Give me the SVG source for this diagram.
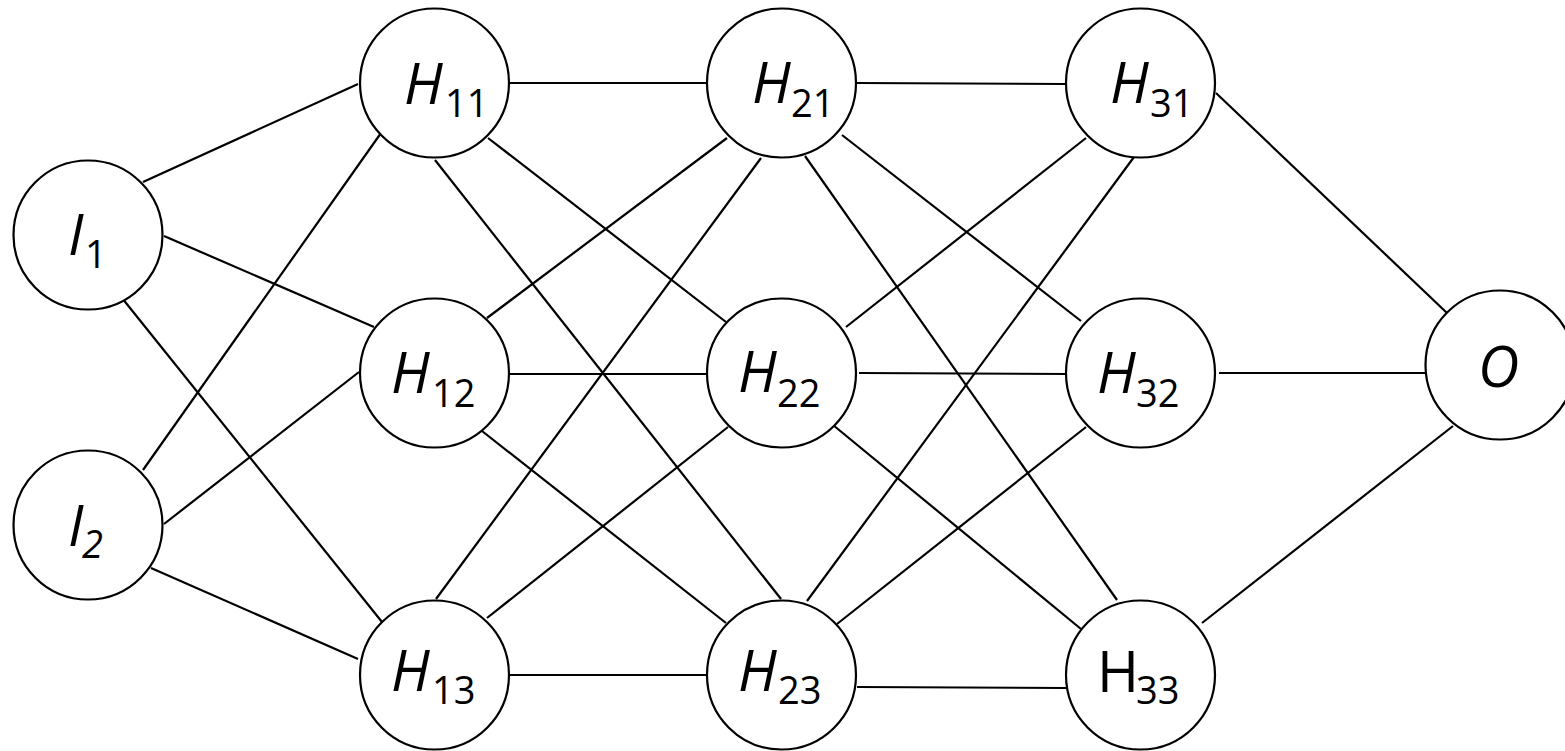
<svg xmlns="http://www.w3.org/2000/svg" width="1565" height="751" viewBox="0 0 1565 751">
  <style>
    .node circle { fill: #ffffff; stroke: #000000; stroke-width: 2.2; }
    .edges line { stroke: #000000; stroke-width: 2.2; }
    .lbl { font-family: "Open Sans", "Liberation Sans", sans-serif; font-size: 57px; fill: #000000; }
    .it { font-style: italic; }
    .sub { font-size: 38px; }
  </style>
  <rect width="1565" height="751" fill="#ffffff"/>

  <!-- weighted connections between layers -->
  <g id="connectors" class="edges">
    <!-- input layer to hidden layer 1 -->
    <line x1="143" y1="182" x2="358" y2="84"/>
    <line x1="164" y1="236" x2="374" y2="327"/>
    <line x1="122" y1="298" x2="382" y2="622"/>
    <line x1="143" y1="470" x2="381" y2="133"/>
    <line x1="164" y1="524" x2="359" y2="372"/>
    <line x1="151" y1="568" x2="358" y2="659"/>
    <!-- hidden layer 1 to hidden layer 2 -->
    <line x1="510" y1="83" x2="706" y2="83"/>
    <line x1="488" y1="138" x2="726" y2="322"/>
    <line x1="435" y1="160" x2="781" y2="599"/>
    <line x1="487" y1="318" x2="727" y2="138"/>
    <line x1="510" y1="374" x2="706" y2="374"/>
    <line x1="482" y1="431" x2="726" y2="623"/>
    <line x1="436" y1="599" x2="761" y2="158"/>
    <line x1="487" y1="618" x2="728" y2="427"/>
    <line x1="510" y1="675" x2="706" y2="675"/>
    <!-- hidden layer 2 to hidden layer 3 -->
    <line x1="857" y1="83" x2="1065" y2="84"/>
    <line x1="842" y1="135" x2="1081" y2="321"/>
    <line x1="805" y1="156" x2="1117" y2="600"/>
    <line x1="846" y1="327" x2="1086" y2="138"/>
    <line x1="859" y1="373" x2="1068" y2="374"/>
    <line x1="833" y1="425" x2="1081" y2="629"/>
    <line x1="807" y1="601" x2="1134" y2="157"/>
    <line x1="837" y1="624" x2="1086" y2="427"/>
    <line x1="857" y1="687" x2="1066" y2="688"/>
    <!-- hidden layer 3 to output -->
    <line x1="1216" y1="93" x2="1447" y2="313"/>
    <line x1="1219" y1="373" x2="1428" y2="373"/>
    <line x1="1202" y1="623" x2="1453" y2="426"/>
  </g>

  <!-- input layer -->
  <g id="I1" class="node">
    <circle cx="88" cy="235" r="74.5"/>
    <text class="lbl it" x="68" y="255">I<tspan class="sub" x="85" y="268" font-style="normal">1</tspan></text>
  </g>
  <g id="I2" class="node">
    <circle cx="88" cy="525" r="74.5"/>
    <text class="lbl it" x="68" y="546">I<tspan class="sub" x="82" y="558">2</tspan></text>
  </g>

  <!-- hidden layer 1 -->
  <g id="H11" class="node">
    <circle cx="434.5" cy="83" r="74.5"/>
    <text class="lbl it" x="404" y="104">H<tspan class="sub" x="445" y="117" font-style="normal">11</tspan></text>
  </g>
  <g id="H12" class="node">
    <circle cx="434.5" cy="373" r="74.5"/>
    <text class="lbl it" x="391" y="393">H<tspan class="sub" x="432" y="407" font-style="normal">12</tspan></text>
  </g>
  <g id="H13" class="node">
    <circle cx="434.5" cy="675" r="74.5"/>
    <text class="lbl it" x="391" y="691">H<tspan class="sub" x="432" y="704" font-style="normal">13</tspan></text>
  </g>

  <!-- hidden layer 2 -->
  <g id="H21" class="node">
    <circle cx="781.5" cy="83" r="74.5"/>
    <text class="lbl it" x="752" y="103">H<tspan class="sub" x="791" y="117" font-style="normal">21</tspan></text>
  </g>
  <g id="H22" class="node">
    <circle cx="781.5" cy="373" r="74.5"/>
    <text class="lbl it" x="738" y="392">H<tspan class="sub" x="777" y="407" font-style="normal">22</tspan></text>
  </g>
  <g id="H23" class="node">
    <circle cx="781.5" cy="675" r="74.5"/>
    <text class="lbl it" x="738" y="691">H<tspan class="sub" x="778" y="704" font-style="normal">23</tspan></text>
  </g>

  <!-- hidden layer 3 -->
  <g id="H31" class="node">
    <circle cx="1140.5" cy="83" r="74.5"/>
    <text class="lbl it" x="1110" y="103">H<tspan class="sub" x="1150" y="117" font-style="normal">31</tspan></text>
  </g>
  <g id="H32" class="node">
    <circle cx="1140.5" cy="373" r="74.5"/>
    <text class="lbl it" x="1097" y="393">H<tspan class="sub" x="1136" y="407" font-style="normal">32</tspan></text>
  </g>
  <g id="H33" class="node">
    <circle cx="1140.5" cy="675" r="74.5"/>
    <text class="lbl" x="1097" y="692">H<tspan class="sub" x="1136" y="704">33</tspan></text>
  </g>

  <!-- output -->
  <g id="O" class="node">
    <circle cx="1500" cy="365" r="74.5"/>
    <text class="lbl it" x="1478" y="387">O</text>
  </g>
</svg>
